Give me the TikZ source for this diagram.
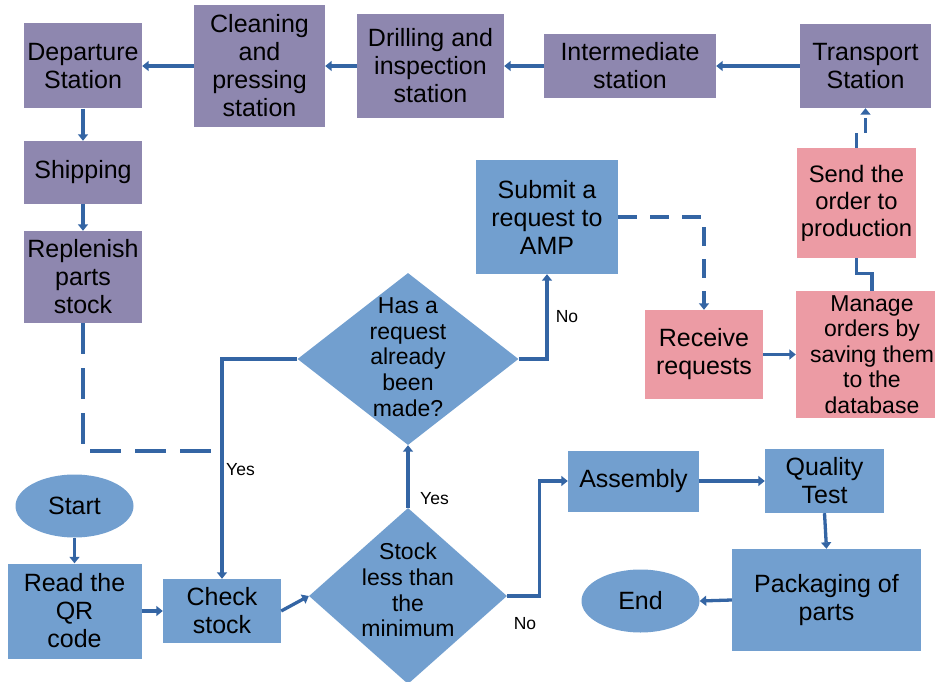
\documentclass[tikz,border=0pt]{standalone}
\usepackage{fontspec}
\setmainfont{Liberation Sans}
\usetikzlibrary{shapes.geometric,arrows.meta}
\definecolor{stationpurple}{HTML}{8E87AF}
\definecolor{stepblue}{HTML}{729FCF}
\definecolor{orderpink}{HTML}{EC9BA4}
\definecolor{flowline}{HTML}{3465A4}

\begin{document}
\begin{tikzpicture}[x=1pt,y=-1pt,
  every node/.style={font=\fontsize{25}{28}\selectfont, align=center, inner sep=0pt},
  boxsize/.style 2 args={rectangle, minimum width=#1, minimum height=#2},
  station/.style={fill=stationpurple},
  stepbox/.style={fill=stepblue},
  orderbox/.style={fill=orderpink},
  decision/.style 2 args={diamond, fill=stepblue, minimum width=#1, minimum height=#2},
  terminal/.style={ellipse, fill=stepblue, minimum width=118, minimum height=63},
  smalltext/.style={font=\fontsize{23}{25.6}\selectfont},
  answer/.style={font=\fontsize{17.5}{20}\selectfont},
  flow/.style={draw=flowline, line width=3.3pt, -{Triangle[length=6.5pt,width=10pt]}},
  link/.style={draw=flowline, line width=3.3pt}]
\useasboundingbox (0,0) rectangle (935,682);
\clip (0,0) rectangle (935,682);

%Stations (top row)
\node[station,boxsize={118}{85}] (depart) at (83,66) {Departure\\Station};
\node[station,boxsize={131}{122}] (clean) at (259.5,66) {Cleaning\\and\\pressing\\station};
\node[station,boxsize={147}{104}] (drill) at (430.5,66) {Drilling and\\inspection\\station};
\node[station,boxsize={172}{64}] (inter) at (630,66) {Intermediate\\station};
\node[station,boxsize={131}{84}] (transport) at (865.5,66) {Transport\\Station};
\draw[flow] (transport.west) -- (inter.east);
\draw[flow] (inter.west) -- (drill.east);
\draw[flow] (drill.west) -- (clean.east);
\draw[flow] (clean.west) -- (depart.east);

%Left column
\node[station,boxsize={118}{63}] (ship) at (83,172.5) {Shipping};
\node[station,boxsize={118}{92}] (replen) at (83,277) {Replenish\\parts\\stock};
\draw[flow] (depart.south) -- (ship.north);
\draw[flow] (ship.south) -- (replen.north);

%Start and stock check
\node[terminal] (start) at (74.5,506) {Start};
\node[stepbox,boxsize={134}{95}] (read) at (74.5,611) {Read the\\QR\\code};
\node[stepbox,boxsize={118}{64}] (check) at (222,611) {Check\\stock};
\node[decision={198}{176}] (stock) at (408,596) {};
\node[smalltext] (stocktext) at (408,590) {Stock\\less than\\the\\minimum};
\node[decision={221}{172}] (req) at (408,359) {};
\node[smalltext] (reqtext) at (408,357) {Has a\\request\\already\\been\\made?};
\coordinate (merge) at (222,451);
\draw[flow] (start.south) -- (read.north);
\draw[flow] (read.east) -- (check.west);
\draw[flow] (check.east) -- (stock.west);
\draw[flow] (stock.north) -- (req.south);
\draw[flow] (req.west) -| (check.north);
\draw[link, dash pattern=on 31pt off 14pt] (replen.south) |- (merge);
\node[answer,anchor=west] (yesreq) at (226,470) {Yes};
\node[answer,anchor=west] (yesstock) at (420,499) {Yes};

%Orders
\node[stepbox,boxsize={142}{114}] (submit) at (547,217) {Submit a\\request to\\AMP};
\node[orderbox,boxsize={118}{89}] (recv) at (704,354.5) {Receive\\requests};
\node[orderbox,boxsize={152}{127},smalltext] (manage) at (872,354.5) {Manage\\orders by\\saving them\\to the\\database};
\node[orderbox,boxsize={119}{110},font=\fontsize{23.8}{27}\selectfont] (send) at (856.5,203) {Send the\\order to\\production};
\draw[flow] (req.east) -| (submit.south);
\node[answer] (noreq) at (567,317) {No};
\draw[flow, dash pattern=on 19pt off 13pt] (submit.east) -| (recv.north);
\draw[flow] (recv.east) -- (manage.west);
\draw[link] (manage.north) -- ++(0,-17) -| (send.south);
\draw[flow, dash pattern=on 15pt off 9pt] (send.north) -- ++(0,-15) -| (transport.south);

%Production
\node[stepbox,boxsize={131}{61}] (assem) at (633.5,481) {Assembly};
\node[stepbox,boxsize={119}{64}] (qual) at (824.5,481) {Quality\\Test};
\node[stepbox,boxsize={189}{102}] (pack) at (826.5,600) {Packaging of\\parts};
\node[terminal] (end) at (640.5,601) {End};
\draw[flow] (stock.east) -- ++(32,0) |- (assem.west);
\node[answer] (nostock) at (525,624) {No};
\draw[flow] (assem.east) -- (qual.west);
\draw[flow] (qual.south) -- (pack.north);
\draw[flow] (pack.west) -- (end.east);

\end{tikzpicture}
\end{document}
